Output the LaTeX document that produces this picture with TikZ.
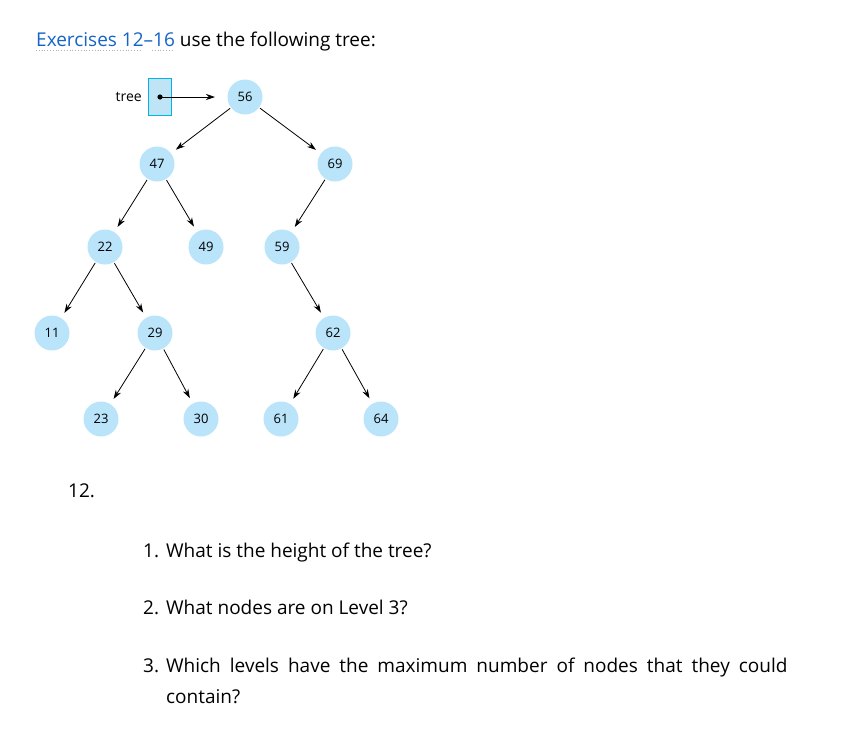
\documentclass[tikz,border=0pt]{standalone}
\usepackage{fontspec}
\setmainfont{Open Sans}
\usetikzlibrary{arrows.meta}
\definecolor{nodefill}{RGB}{185,228,250}
\definecolor{boxfill}{RGB}{190,228,245}
\definecolor{boxline}{RGB}{0,180,230}
\definecolor{linkblue}{RGB}{20,100,200}
\tikzset{
  tn/.style={circle,fill=nodefill,minimum size=35pt,inner sep=0pt,font=\fontsize{13}{13}\selectfont},
  ed/.style={-{Stealth[length=9pt,width=6pt]},line width=0.8pt,shorten >=6pt,shorten <=1pt},
  txt/.style={anchor=base west,inner sep=0pt,font=\fontsize{19}{19}\selectfont}
}
\begin{document}
\begin{tikzpicture}[x=1pt,y=-1pt]
\useasboundingbox (0,0) rectangle (843,742);
\node[txt] (h) at (36,46) {\textcolor{linkblue}{Exercises 12–16} use the following tree:};
\draw[gray!60,dotted,line width=0.8pt] (36,50) -- (141,50) (152,50) -- (173,50);
% tree
\node[anchor=east,inner sep=0pt,font=\fontsize{14}{14}\selectfont] (tl) at (142,97) {tree};
\node[draw=boxline,fill=boxfill,line width=1.2pt,minimum width=23pt,minimum height=37pt,inner sep=0pt] (box) at (160,97) {};
\fill (160,97) circle (2.6pt);
\coordinate (dot) at (160,97);
\coordinate (tip) at (215,97);
\draw[-{Stealth[length=9pt,width=6pt]},line width=0.8pt] (dot) -- (tip);
\node[tn] (n56) at (245,97) {56};
\node[tn] (n47) at (157,164) {47};
\node[tn] (n69) at (335,164) {69};
\node[tn] (n22) at (105,247) {22};
\node[tn] (n49) at (206,247) {49};
\node[tn] (n59) at (282,247) {59};
\node[tn] (n11) at (52,333) {11};
\node[tn] (n29) at (155,333) {29};
\node[tn] (n62) at (333,333) {62};
\node[tn] (n23) at (101,419) {23};
\node[tn] (n30) at (201,419) {30};
\node[tn] (n61) at (281,419) {61};
\node[tn] (n64) at (381,419) {64};
\foreach \a/\b in {n56/n47,n56/n69,n47/n22,n47/n49,n69/n59,n22/n11,n22/n29,n59/n62,n29/n23,n29/n30,n62/n61,n62/n64}
  \draw[ed] (\a) -- (\b);
% questions
\node[txt] (q12) at (68,497) {12.};
\node[txt] (q1) at (143,557) {1.\hspace{7pt}What is the height of the tree?};
\node[txt] (q2) at (143,614) {2.\hspace{7pt}What nodes are on Level 3?};
\node[txt] (q3) at (143,672) {3.\hspace{7pt}Which\hspace{9pt}levels\hspace{9pt}have\hspace{9pt}the\hspace{9pt}maximum\hspace{9pt}number\hspace{9pt}of\hspace{9pt}nodes\hspace{9pt}that\hspace{9pt}they\hspace{9pt}could};
\node[txt] (q3b) at (166,703) {contain?};
\end{tikzpicture}
\end{document}
